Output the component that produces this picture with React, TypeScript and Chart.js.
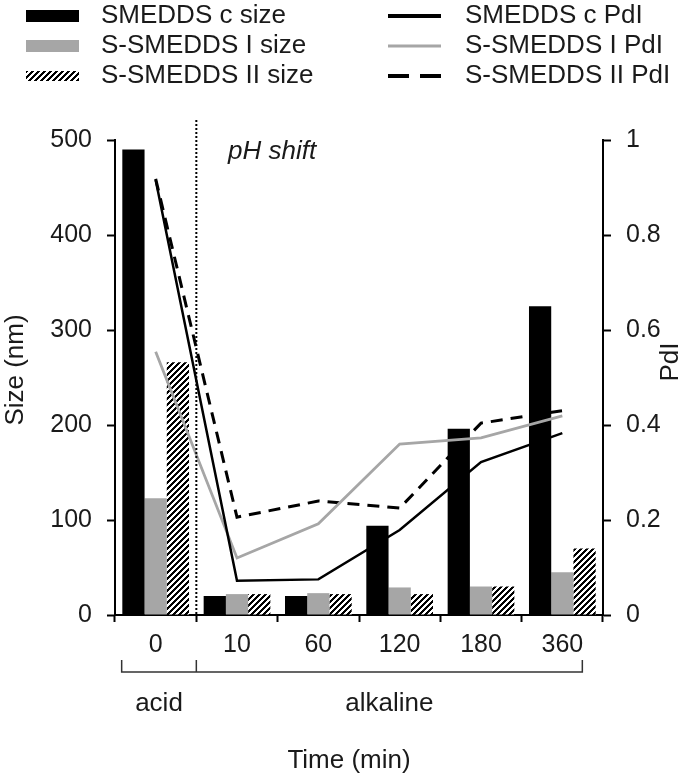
import React, { useEffect, useRef } from 'react';
import { Chart, registerables } from 'chart.js';

Chart.register(...registerables);

const categories = ['0', '10', '60', '120', '180', '360'];
const smeddsCSize = [490, 20, 20, 94, 196, 325];
const sSmeddsISize = [123, 22, 23, 29, 30, 45];
const sSmeddsIISize = [266, 22, 22, 22, 30, 70];
const smeddsCPdI = [0.916, 0.072, 0.075, 0.179, 0.322, 0.383];
const sSmeddsIPdI = [0.554, 0.12, 0.192, 0.36, 0.373, 0.419];
const sSmeddsIIPdI = [0.918, 0.206, 0.24, 0.225, 0.404, 0.43];
const sizeRange = [0, 500, 100];
const pdiRange = [0, 1, 0.2];
const phaseLabels = ['acid', 'alkaline'];
const legendLeft = ['SMEDDS c size', 'S-SMEDDS I size', 'S-SMEDDS II size'];
const legendRight = ['SMEDDS c PdI', 'S-SMEDDS I PdI', 'S-SMEDDS II PdI'];

const FONT = "'Liberation Sans', Arial, sans-serif";
const GRAY = '#a6a6a6';
const TEXT = '#1a1a1a';

function makeHatch(ctx: CanvasRenderingContext2D): CanvasPattern | string {
  const c = document.createElement('canvas');
  const n = 6;
  c.width = n;
  c.height = n;
  const p = c.getContext('2d');
  if (!p) return '#000';
  p.fillStyle = '#fff';
  p.fillRect(0, 0, n, n);
  for (let x = 0; x < n; x++) {
    for (let y = 0; y < n; y++) {
      const m = (x + y) % n;
      if (m < 3) {
        p.fillStyle = '#000';
        p.fillRect(x, y, 1, 1);
      }
    }
  }
  return ctx.createPattern(c, 'repeat') || '#000';
}

export default function App() {
  const ref = useRef<HTMLCanvasElement | null>(null);

  useEffect(() => {
    document.body.style.margin = '0';
    const canvas = ref.current;
    if (!canvas) return;
    const ctx0 = canvas.getContext('2d');
    if (!ctx0) return;
    const hatch = makeHatch(ctx0);

    const decor = {
      id: 'decor',
      afterDraw(chart: any) {
        const ctx: CanvasRenderingContext2D = chart.ctx;
        const xs = chart.scales.x;
        const area = chart.chartArea;
        ctx.save();

        // legend
        const rows = [16, 46, 76];
        ctx.font = `26px ${FONT}`;
        ctx.textBaseline = 'middle';
        ctx.textAlign = 'left';
        ctx.fillStyle = TEXT;
        legendLeft.forEach((t, i) => ctx.fillText(t, 101, rows[i]));
        legendRight.forEach((t, i) => ctx.fillText(t, 465, rows[i]));
        ctx.fillStyle = '#000';
        ctx.fillRect(26, rows[0] - 6, 53, 12);
        ctx.fillStyle = GRAY;
        ctx.fillRect(26, rows[1] - 6, 53, 12);
        ctx.fillStyle = hatch as any;
        ctx.fillRect(26, rows[2] - 5, 53, 10);
        ctx.lineCap = 'butt';
        ctx.strokeStyle = '#000';
        ctx.lineWidth = 4;
        ctx.beginPath();
        ctx.moveTo(388, rows[0]);
        ctx.lineTo(441, rows[0]);
        ctx.stroke();
        ctx.strokeStyle = GRAY;
        ctx.lineWidth = 3;
        ctx.beginPath();
        ctx.moveTo(388, rows[1]);
        ctx.lineTo(441, rows[1]);
        ctx.stroke();
        ctx.strokeStyle = '#000';
        ctx.lineWidth = 4;
        ctx.setLineDash([21, 11]);
        ctx.beginPath();
        ctx.moveTo(388, rows[2]);
        ctx.lineTo(441, rows[2]);
        ctx.stroke();
        ctx.setLineDash([]);

        // axis titles
        ctx.fillStyle = TEXT;
        ctx.font = `26px ${FONT}`;
        ctx.textAlign = 'center';
        ctx.save();
        ctx.translate(16, 370);
        ctx.rotate(-Math.PI / 2);
        ctx.fillText('Size (nm)', 0, 0);
        ctx.restore();
        ctx.save();
        ctx.translate(671, 362);
        ctx.rotate(-Math.PI / 2);
        ctx.fillText('PdI', 0, 0);
        ctx.restore();

        // pH shift
        ctx.font = `italic 26px ${FONT}`;
        ctx.textAlign = 'left';
        ctx.fillText('pH shift', 228, 152);

        // dotted separator
        const c0 = xs.getPixelForValue(0);
        const c1 = xs.getPixelForValue(1);
        const c5 = xs.getPixelForValue(5);
        const bnd = (c0 + c1) / 2;
        ctx.strokeStyle = '#000';
        ctx.lineWidth = 2;
        ctx.setLineDash([2, 2]);
        ctx.beginPath();
        ctx.moveTo(bnd, 120);
        ctx.lineTo(bnd, area.bottom);
        ctx.stroke();
        ctx.setLineDash([]);

        // brackets
        const bl = c0 - 34;
        const br = c5 + 20;
        ctx.strokeStyle = '#333';
        ctx.lineWidth = 1.5;
        ctx.beginPath();
        ctx.moveTo(bl, 660);
        ctx.lineTo(bl, 672);
        ctx.lineTo(br, 672);
        ctx.lineTo(br, 660);
        ctx.moveTo(bnd, 660);
        ctx.lineTo(bnd, 672);
        ctx.stroke();

        ctx.font = `26px ${FONT}`;
        ctx.textAlign = 'center';
        ctx.fillStyle = TEXT;
        ctx.fillText(phaseLabels[0], (bl + bnd) / 2, 704);
        ctx.fillText(phaseLabels[1], (bnd + br) / 2, 704);
        ctx.fillText('Time (min)', 349, 761);
        ctx.restore();
      },
    };

    const tickFont = { size: 25, family: FONT };

    const chart = new Chart(canvas, {
      type: 'bar',
      data: {
        labels: categories,
        datasets: [
          {
            type: 'line',
            label: legendRight[0],
            data: smeddsCPdI,
            yAxisID: 'y1',
            borderColor: '#000',
            borderWidth: 2.5,
            pointRadius: 0,
            order: 1,
          } as any,
          {
            type: 'line',
            label: legendRight[1],
            data: sSmeddsIPdI,
            yAxisID: 'y1',
            borderColor: GRAY,
            borderWidth: 2.8,
            pointRadius: 0,
            order: 1,
          },
          {
            type: 'line',
            label: legendRight[2],
            data: sSmeddsIIPdI,
            yAxisID: 'y1',
            borderColor: '#000',
            borderWidth: 3,
            borderDash: [12, 8],
            pointRadius: 0,
            order: 1,
          },
          {
            type: 'bar',
            label: legendLeft[0],
            data: smeddsCSize,
            yAxisID: 'y',
            backgroundColor: '#000',
            categoryPercentage: 0.82,
            barPercentage: 1,
            order: 2,
          },
          {
            type: 'bar',
            label: legendLeft[1],
            data: sSmeddsISize,
            yAxisID: 'y',
            backgroundColor: GRAY,
            categoryPercentage: 0.82,
            barPercentage: 1,
            order: 2,
          },
          {
            type: 'bar',
            label: legendLeft[2],
            data: sSmeddsIISize,
            yAxisID: 'y',
            backgroundColor: hatch as any,
            categoryPercentage: 0.82,
            barPercentage: 1,
            order: 2,
          },
        ],
      },
      options: {
        responsive: false,
        animation: false,
        layout: { padding: { top: 140, left: 0, right: 0, bottom: 0 } },
        plugins: {
          legend: { display: false },
          tooltip: { enabled: false },
          title: { display: false },
        },
        scales: {
          x: {
            offset: true,
            grid: {
              offset: true,
              drawOnChartArea: false,
              drawTicks: true,
              tickLength: 7,
              tickWidth: 2,
              tickColor: '#000',
            },
            border: { display: true, color: '#000', width: 2 },
            ticks: { font: tickFont, color: TEXT, padding: 8, maxRotation: 0 },
            afterFit: (s: any) => {
              s.height = 164;
            },
          },
          y: {
            position: 'left',
            min: sizeRange[0],
            max: sizeRange[1],
            ticks: { stepSize: sizeRange[2], font: tickFont, color: TEXT, padding: 15 },
            grid: {
              drawOnChartArea: false,
              tickLength: 8,
              tickWidth: 2,
              tickColor: '#000',
            },
            border: { display: true, color: '#000', width: 2 },
            afterFit: (s: any) => {
              s.width = 115;
            },
          },
          y1: {
            position: 'right',
            min: pdiRange[0],
            max: pdiRange[1],
            ticks: {
              stepSize: pdiRange[2],
              font: tickFont,
              color: TEXT,
              padding: 15,
              callback: (v: any) => String(parseFloat(Number(v).toFixed(2))),
            },
            grid: {
              drawOnChartArea: false,
              tickLength: 8,
              tickWidth: 2,
              tickColor: '#000',
            },
            border: { display: true, color: '#000', width: 2 },
            afterFit: (s: any) => {
              s.width = 82;
            },
          },
        },
      } as any,
      plugins: [decor],
    });

    return () => {
      chart.destroy();
    };
  }, []);

  return (
    <div style={{ width: 685, height: 779, position: 'relative' }}>
      <canvas ref={ref} width={685} height={779} style={{ display: 'block', width: 685, height: 779 }} />
    </div>
  );
}
